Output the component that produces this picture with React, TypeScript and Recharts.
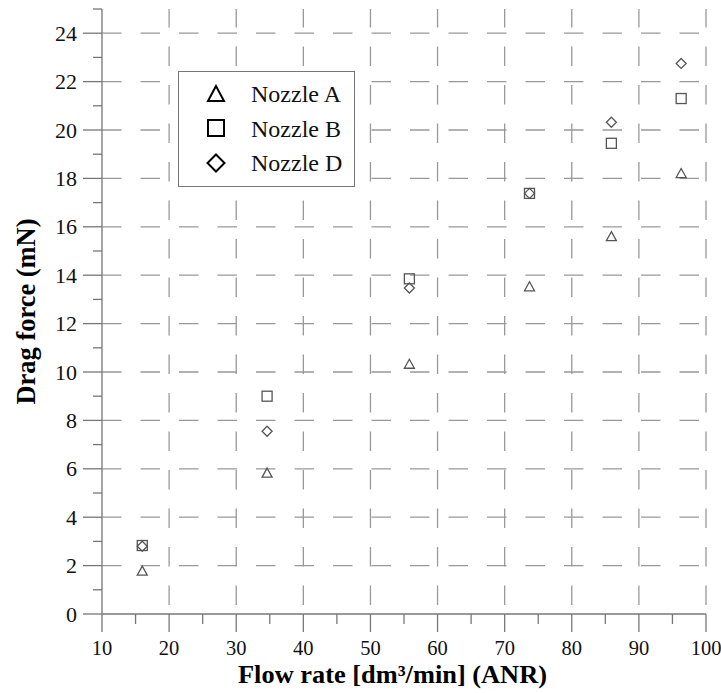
import React from 'react';
import { ScatterChart, Scatter, XAxis, YAxis, ReferenceLine, Label } from 'recharts';

const flowRate = [16, 34.6, 55.8, 73.7, 85.9, 96.3];
const nozzleA = [1.75, 5.8, 10.3, 13.5, 15.57, 18.18];
const nozzleB = [2.83, 9.0, 13.85, 17.38, 19.45, 21.3];
const nozzleD = [2.8, 7.55, 13.47, 17.38, 20.32, 22.75];

const xTicks = [10, 15, 20, 25, 30, 35, 40, 45, 50, 55, 60, 65, 70, 75, 80, 85, 90, 95, 100];
const yTicks = [0, 1, 2, 3, 4, 5, 6, 7, 8, 9, 10, 11, 12, 13, 14, 15, 16, 17, 18, 19, 20, 21, 22, 23, 24, 25];
const xGrid = [20, 30, 40, 50, 60, 70, 80, 90, 100];
const yGrid = [2, 4, 6, 8, 10, 12, 14, 16, 18, 20, 22, 24];

const toPoints = (ys: number[]) => flowRate.map((x, i) => ({ x, y: ys[i] }));

const FONT = 'Liberation Serif, DejaVu Serif, serif';
const AXIS = '#777';
const GRID = '#999';
const MARK = '#555';

const Triangle = ({ cx, cy }: any) => (
  <polygon
    points={`${cx},${cy - 5.5} ${cx - 5},${cy + 3.5} ${cx + 5},${cy + 3.5}`}
    fill="none" stroke={MARK} strokeWidth={1.3}
  />
);
const Square = ({ cx, cy }: any) => (
  <rect x={cx - 5} y={cy - 5} width={10} height={10} fill="none" stroke={MARK} strokeWidth={1.3} />
);
const Diamond = ({ cx, cy }: any) => (
  <polygon
    points={`${cx},${cy - 5} ${cx + 5},${cy} ${cx},${cy + 5} ${cx - 5},${cy}`}
    fill="none" stroke={MARK} strokeWidth={1.3}
  />
);

const XTick = ({ x, y, payload }: any) => {
  const v = payload.value;
  const major = v % 10 === 0;
  return (
    <g>
      <line x1={x} x2={x} y1={y} y2={y + (major ? 18 : 10)} stroke={AXIS} strokeWidth={1.3} />
      {major && (
        <text x={x} y={y + 41} textAnchor="middle" fontSize={20.5} fontFamily={FONT} fill="#111">
          {v}
        </text>
      )}
    </g>
  );
};

const YTick = ({ x, y, payload }: any) => {
  const v = payload.value;
  const major = v % 2 === 0;
  return (
    <g>
      <line x1={x - (major ? 19 : 9)} x2={x} y1={y} y2={y} stroke={AXIS} strokeWidth={1.3} />
      {major && (
        <text x={x - 25} y={y + 7.5} textAnchor="end" fontSize={22} fontFamily={FONT} fill="#111">
          {v}
        </text>
      )}
    </g>
  );
};

const legendItems = [
  { name: 'Nozzle A', icon: <polygon points="9,1 1,16 17,16" /> },
  { name: 'Nozzle B', icon: <rect x={1} y={1} width={16} height={16} /> },
  { name: 'Nozzle D', icon: <polygon points="9,0.5 17.5,9 9,17.5 0.5,9" /> },
];

export default function App() {
  return (
    <div style={{ position: 'absolute', left: 0, top: 0, width: 721, height: 693, background: '#fff' }}>
      <ScatterChart width={721} height={693} margin={{ top: 9, right: 15, bottom: 0, left: 0 }}>
        <XAxis
          type="number"
          dataKey="x"
          domain={[10, 100]}
          ticks={xTicks}
          interval={0}
          tickSize={0}
          tickMargin={0}
          tickLine={false}
          tick={<XTick />}
          height={79}
          stroke={AXIS}
          strokeWidth={1.3}
        >
          <Label
            content={({ viewBox }: any) => (
              <text
                x={viewBox.x + viewBox.width / 2 - 11.5}
                y={viewBox.y + 69}
                textAnchor="middle"
                fontSize={25}
                fontWeight="bold"
                fontFamily={FONT}
                fill="#000"
                textLength={309}
                lengthAdjust="spacingAndGlyphs"
              >
                Flow rate [dm³/min] (ANR)
              </text>
            )}
          />
        </XAxis>
        <YAxis
          type="number"
          dataKey="y"
          domain={[0, 25]}
          ticks={yTicks}
          interval={0}
          tickSize={0}
          tickMargin={0}
          tickLine={false}
          tick={<YTick />}
          width={102}
          stroke={AXIS}
          strokeWidth={1.3}
        >
          <Label
            content={({ viewBox }: any) => {
              const cy = viewBox.y + viewBox.height / 2;
              return (
                <text
                  x={35}
                  y={cy}
                  transform={`rotate(-90, 35, ${cy})`}
                  textAnchor="middle"
                  fontSize={27}
                  fontWeight="bold"
                  fontFamily={FONT}
                  fill="#000"
                  textLength={186}
                  lengthAdjust="spacingAndGlyphs"
                >
                  Drag force (mN)
                </text>
              );
            }}
          />
        </YAxis>
        {xGrid.map((v) => (
          <ReferenceLine
            key={`gx-${v}`}
            x={v}
            stroke={GRID}
            strokeWidth={1.3}
            strokeDasharray="19.5 19"
            strokeDashoffset={29.5}
          />
        ))}
        {yGrid.map((v) => (
          <ReferenceLine key={`gy-${v}`} y={v} stroke={GRID} strokeWidth={1.3} strokeDasharray="19.5 19" />
        ))}
        <Scatter name="Nozzle A" data={toPoints(nozzleA)} shape={<Triangle />} isAnimationActive={false} />
        <Scatter name="Nozzle B" data={toPoints(nozzleB)} shape={<Square />} isAnimationActive={false} />
        <Scatter name="Nozzle D" data={toPoints(nozzleD)} shape={<Diamond />} isAnimationActive={false} />
      </ScatterChart>
      <div
        style={{
          position: 'absolute',
          left: 178,
          top: 71,
          width: 175,
          height: 114,
          border: `1.3px solid ${AXIS}`,
          background: '#fff',
          fontFamily: FONT,
          fontSize: 24,
          color: '#111',
          boxSizing: 'content-box',
        }}
      >
        {legendItems.map((item, i) => (
          <div
            key={item.name}
            style={{ position: 'absolute', left: 28, top: 10 + i * 34.5, height: 24, display: 'flex', alignItems: 'center' }}
          >
            <svg width={19} height={19} style={{ overflow: 'visible' }}>
              <g fill="none" stroke="#000" strokeWidth={2}>{item.icon}</g>
            </svg>
            <span style={{ marginLeft: 25, lineHeight: '24px' }}>{item.name}</span>
          </div>
        ))}
      </div>
    </div>
  );
}
